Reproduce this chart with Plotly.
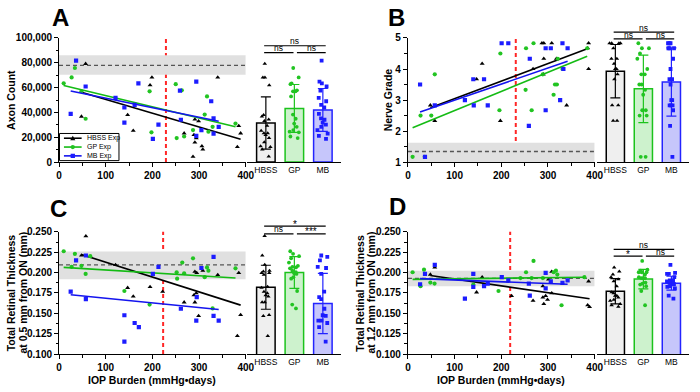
import plotly.graph_objects as go

W, H = 700, 392
FONT = "Liberation Sans"

# ---------------- data ----------------
groups = ["HBSS", "GP", "MB"]
legend_names = ["HBSS Exp", "GP Exp", "MB Exp"]

# Panel A: axon count
A_hbss_x = [57, 199, 340, 195, 48, 147, 159, 268, 291, 299, 289, 294, 291, 306, 308, 287, 385, 389, 382]
A_hbss_y = [79200, 68200, 68200, 62000, 36700, 38000, 25300, 23200, 34400, 33000, 21900, 19300, 15900, 12800, 10200, 4400, 29200, 23200, 12200]
A_gp_x = [10, 27, 34, 48, 57, 194, 198, 250, 263, 252, 268, 287, 312, 317, 320, 329, 378]
A_gp_y = [63500, 68200, 75800, 57000, 34900, 57000, 24000, 62800, 57800, 19300, 20600, 25800, 38300, 52900, 24500, 28400, 31000]
A_mb_x = [25, 36.5, 57, 121, 140, 140, 162, 170, 201, 213, 259, 261, 294, 294, 305, 326, 331, 331, 342]
A_mb_y = [38800, 81800, 60900, 51800, 44000, 31800, 46100, 63500, 18750, 30200, 57500, 34100, 64800, 21100, 25800, 49000, 35200, 22900, 28400]

# Panel B: nerve grade
B_hbss_x = [48, 57.5, 147, 159, 198, 287, 291, 308, 291, 290, 268, 340, 387, 385, 387, 318]
B_hbss_y = [2.83, 2.33, 3.67, 4.17, 2.33, 4.83, 4.83, 4.83, 4.33, 3.83, 4.0, 2.83, 4.83, 4.67, 4.0, 4.33]
B_gp_x = [57.5, 27, 50, 198, 196, 253, 269, 252, 265, 289, 315, 319, 312, 321, 331, 384, 10, 36]
B_gp_y = [3.83, 2.5, 2.5, 4.5, 2.67, 4.67, 4.83, 3.33, 2.67, 3.83, 3.5, 3.5, 3.17, 4.33, 4.0, 4.67, 1.17, 1.17]
B_mb_x = [26, 36.5, 57.5, 122, 140, 141, 163, 171, 200.7, 215, 259, 261, 295, 295, 306, 326, 331, 333, 342]
B_mb_y = [3.5, 1.17, 2.83, 3.0, 3.67, 2.83, 3.67, 2.83, 4.83, 4.83, 2.17, 4.33, 4.67, 2.67, 4.67, 3.0, 4.83, 4.0, 4.67]

# Panel C: retinal thickness at 0.5 mm
C_hbss_x = [57.5, 48, 121, 147, 159, 195, 222, 268, 289, 291, 291, 295, 299, 308, 340, 385, 389, 382, 294]
C_hbss_y = [0.2448, 0.221, 0.2095, 0.1813, 0.1706, 0.1825, 0.1766, 0.1635, 0.1722, 0.1635, 0.2012, 0.1996, 0.1468, 0.2024, 0.1972, 0.1996, 0.148, 0.1222, 0.1746]
C_gp_x = [10, 34, 27, 48, 67, 57, 140, 194, 252, 253, 264, 268, 287, 312, 317, 320, 378, 329]
C_gp_y = [0.2262, 0.223, 0.2071, 0.2083, 0.2202, 0.1984, 0.1774, 0.1607, 0.2004, 0.1925, 0.2123, 0.1992, 0.2175, 0.1944, 0.2063, 0.2024, 0.2052, 0.156]
C_mb_x = [36.5, 57.5, 213, 201, 331, 305, 295, 25, 57.5, 261, 140, 162, 171, 140, 294, 331, 342]
C_mb_y = [0.2151, 0.221, 0.2071, 0.1984, 0.2194, 0.2056, 0.1698, 0.1766, 0.1675, 0.1556, 0.1476, 0.1381, 0.1329, 0.1151, 0.1409, 0.1468, 0.1409]

# Panel D: retinal thickness at 1.2 mm
D_hbss_x = [57.5, 48, 159, 147, 222, 268, 289, 291, 299, 295, 289, 308, 308, 301, 385, 389, 387]
D_hbss_y = [0.2063, 0.1976, 0.1944, 0.1758, 0.1714, 0.1655, 0.1694, 0.1615, 0.1667, 0.1714, 0.1833, 0.2012, 0.1746, 0.1917, 0.1599, 0.1579, 0.1893]
D_gp_x = [10, 27, 34.4, 48, 57, 140, 194, 253, 269, 265, 289, 312, 317, 320, 329, 378, 241]
D_gp_y = [0.2004, 0.1833, 0.2036, 0.1877, 0.1865, 0.1853, 0.1774, 0.2004, 0.2143, 0.1933, 0.1933, 0.2004, 0.2024, 0.1976, 0.1599, 0.1944, 0.1933]
D_mb_x = [36.5, 57.5, 26, 140, 140, 122, 163, 171, 201, 215, 261, 259, 295, 295, 306, 331, 342]
D_mb_y = [0.1984, 0.2095, 0.1857, 0.1984, 0.1825, 0.1679, 0.1833, 0.1865, 0.1944, 0.1905, 0.1718, 0.1865, 0.1996, 0.1806, 0.1893, 0.1873, 0.1905]

# linear fits (slope, intercept) per group: HBSS, GP, MB
A_fit = [(-110.6, 61500), (-90.5, 62600), (-77.0, 59270)]
B_fit = [(0.00566, 2.478), (0.00617, 2.042), (0.00518, 2.48)]
C_fit = [(-0.0001824, 0.2310), (-0.0000354, 0.2067), (-0.0000573, 0.1743)]
D_fit = [(-0.0000836, 0.2004), (0.0000073, 0.1916), (-0.0000219, 0.1931)]

# bar means and SD
A_mean = [31500, 43250, 42000]; A_sd = [21000, 19250, 17300]
B_mean = [3.93, 3.36, 3.58];    B_sd = [0.86, 1.09, 1.10]
C_mean = [0.182, 0.200, 0.162]; C_sd = [0.027, 0.0195, 0.037]
D_mean = [0.177, 0.192, 0.187]; D_sd = [0.0155, 0.012, 0.0085]

# control (naive) mean and band
A_ctrl = [78000, 70300, 86000]
B_ctrl = [1.34, 1.0, 1.62]
C_ctrl = [0.2095, 0.1917, 0.226]
D_ctrl = [0.1929, 0.1833, 0.2024]

# IOP burden threshold (red dashed line)
A_thr = 229; B_thr = 231; C_thr = 223; D_thr = 219

# significance labels: [top (HBSS-MB), HBSS-GP, GP-MB]
A_sig = ["ns", "ns", "ns"]
B_sig = ["ns", "ns", "ns"]
C_sig = ["*", "ns", "***"]
D_sig = ["ns", "*", "ns"]

# ---------------- style ----------------
marker_symbols = ["triangle-up", "circle", "square"]
marker_sizes = [4.4, 4.2, 4.2]
marker_colors = ["#000000", "#22c422", "#1c1cff"]
line_colors = ["#000000", "#14bb14", "#1414ee"]
bar_fills = ["#efefef", "#cdf2cd", "#c6c6fb"]
bar_lines = ["#000000", "#1cc31c", "#2323ff"]


def px(X):
    return X / W


def py(Y):
    return 1 - Y / H


panels = [
    dict(letter="A", xs=[A_hbss_x, A_gp_x, A_mb_x], ys=[A_hbss_y, A_gp_y, A_mb_y], fit=A_fit,
         mean=A_mean, sd=A_sd, ctrl=A_ctrl, thr=A_thr, sig=A_sig,
         yr=[0, 100000], dtick=20000, minor=10000, fmt=",d", col=0, row=0,
         brk=(41, 48), letterpos=(58, 12)),
    dict(letter="B", xs=[B_hbss_x, B_gp_x, B_mb_x], ys=[B_hbss_y, B_gp_y, B_mb_y], fit=B_fit,
         mean=B_mean, sd=B_sd, ctrl=B_ctrl, thr=B_thr, sig=B_sig,
         yr=[1, 5], dtick=1, minor=0.5, fmt="d", col=1, row=0,
         brk=(27, 34), letterpos=(400, 12)),
    dict(letter="C", xs=[C_hbss_x, C_gp_x, C_mb_x], ys=[C_hbss_y, C_gp_y, C_mb_y], fit=C_fit,
         mean=C_mean, sd=C_sd, ctrl=C_ctrl, thr=C_thr, sig=C_sig,
         yr=[0.1, 0.25], dtick=0.025, minor=0.0125, fmt=".3f", col=0, row=1,
         brk=(227, 235), letterpos=(56, 209)),
    dict(letter="D", xs=[D_hbss_x, D_gp_x, D_mb_x], ys=[D_hbss_y, D_gp_y, D_mb_y], fit=D_fit,
         mean=D_mean, sd=D_sd, ctrl=D_ctrl, thr=D_thr, sig=D_sig,
         yr=[0.1, 0.25], dtick=0.025, minor=0.0125, fmt=".3f", col=1, row=1,
         brk=(251, 258), letterpos=(401, 207)),
]

scatter_dom = [(57, 247), (412, 602)]
bar_dom = [(248.6, 343.7), (604.5, 698)]
row_dom = [(33, 161), (233, 359)]
BAR_RANGE = [-0.65, 2.63]

fig = go.Figure()
layout = dict(width=W, height=H, margin=dict(l=0, r=0, t=0, b=0),
              paper_bgcolor="white", plot_bgcolor="white", showlegend=False,
              barmode="overlay", font=dict(family=FONT, color="black"))
shapes = []
annotations = []

bold_tick = dict(family=FONT, size=10, color="black", weight="bold")


def aid(prefix, n):
    return prefix + ("" if n == 1 else str(n))


for i, p in enumerate(panels):
    sx = 2 * i + 1
    bx = 2 * i + 2
    yn = i + 1
    sxr, bxr, yr_ = aid("x", sx), aid("x", bx), aid("y", yn)
    c, r = p["col"], p["row"]
    ydom = [py(row_dom[r][1]), py(row_dom[r][0])]

    layout[aid("xaxis", sx)] = dict(
        domain=[px(scatter_dom[c][0]), px(scatter_dom[c][1])], anchor=yr_,
        range=[0, 400], tick0=0, dtick=100, showline=True, linecolor="black", linewidth=1,
        ticks="outside", ticklen=4, tickwidth=1, tickcolor="black",
        minor=dict(ticks="outside", dtick=50, ticklen=3, tickwidth=1, tickcolor="black"),
        showgrid=False, zeroline=False, tickfont=bold_tick, fixedrange=True)
    layout[aid("yaxis", yn)] = dict(
        domain=ydom, anchor=sxr, range=p["yr"], tick0=p["yr"][0], dtick=p["dtick"],
        tickformat=p["fmt"], showline=True, linecolor="black", linewidth=1,
        ticks="outside", ticklen=4, tickwidth=1, tickcolor="black",
        minor=dict(ticks="outside", dtick=p["minor"], ticklen=2.5, tickwidth=1, tickcolor="black"),
        showgrid=False, zeroline=False, tickfont=bold_tick, fixedrange=True)
    layout[aid("xaxis", bx)] = dict(
        domain=[px(bar_dom[c][0]), px(bar_dom[c][1])], anchor=yr_, range=BAR_RANGE,
        tickmode="array", tickvals=[0, 1, 2], ticktext=groups, ticks="",
        showline=True, linecolor="black", linewidth=1, showgrid=False, zeroline=False,
        tickfont=dict(family=FONT, size=8.5, color="black"), fixedrange=True)

    # control band and mean line
    m, lo, hi = p["ctrl"]
    shapes.append(dict(type="rect", xref=sxr, yref=yr_, x0=0, x1=400, y0=lo, y1=hi,
                       fillcolor="#e0e0e0", line=dict(width=0), layer="below"))
    shapes.append(dict(type="line", xref=sxr, yref=yr_, x0=0, x1=400, y0=m, y1=m,
                       line=dict(color="#555555", width=1.3, dash="4px,3px"), layer="below"))
    # threshold
    shapes.append(dict(type="line", xref=sxr, yref=yr_ + " domain", x0=p["thr"], x1=p["thr"],
                       y0=0, y1=1, line=dict(color="#ff2626", width=2, dash="4px,3px"), layer="below"))

    for g in range(3):
        xs, ys = p["xs"][g], p["ys"][g]
        fig.add_trace(go.Scatter(
            x=xs, y=ys, mode="markers", xaxis=sxr, yaxis=yr_, hoverinfo="skip",
            marker=dict(symbol=marker_symbols[g], size=marker_sizes[g], color=marker_colors[g],
                        line=dict(width=0))))
        slope, icpt = p["fit"][g]
        fx = [min(xs), max(xs)]
        fig.add_trace(go.Scatter(
            x=fx, y=[slope * v + icpt for v in fx], mode="lines", xaxis=sxr, yaxis=yr_,
            hoverinfo="skip", line=dict(color=line_colors[g], width=1.6)))
        # bar with SD
        fig.add_trace(go.Bar(
            x=[g], y=[p["mean"][g]], width=0.65, xaxis=bxr, yaxis=yr_, hoverinfo="skip",
            marker=dict(color=bar_fills[g], line=dict(color=bar_lines[g], width=1.5)),
            error_y=dict(type="data", array=[p["sd"][g]], visible=True, color=bar_lines[g],
                         thickness=1.2, width=5)))
        # individual points in the bar
        fig.add_trace(go.Box(
            x=[g] * len(ys), y=ys, xaxis=bxr, yaxis=yr_, boxpoints="all", jitter=0.75,
            pointpos=0, width=0.6, fillcolor="rgba(0,0,0,0)", hoverinfo="skip",
            line=dict(color="rgba(0,0,0,0)", width=0),
            marker=dict(symbol=marker_symbols[g], size=marker_sizes[g] - 0.4, color=marker_colors[g],
                        line=dict(width=0))))

    # significance brackets
    ytop, ylow = p["brk"]
    for (x0, x1, yy, txt) in [(-0.06, 2.1, ytop, p["sig"][0]),
                              (-0.06, 0.97, ylow, p["sig"][1]),
                              (1.09, 2.1, ylow, p["sig"][2])]:
        shapes.append(dict(type="line", xref=bxr, yref="paper", x0=x0, x1=x1,
                           y0=py(yy), y1=py(yy), line=dict(color="black", width=1.2)))
        star = "*" in txt
        annotations.append(dict(
            xref=bxr, yref="paper", x=(x0 + x1) / 2, y=py(yy - 4.5), text=txt, showarrow=False,
            xanchor="center", yanchor="middle", yshift=-2.5 if star else 0,
            font=dict(family=FONT, size=10 if star else 8.5, color="black")))

    # panel letter
    lx, ly = p["letterpos"]
    annotations.append(dict(xref="paper", yref="paper", x=px(lx), y=py(ly), text=p["letter"],
                            showarrow=False, xanchor="center", yanchor="middle",
                            font=dict(family=FONT, size=24, color="black", weight="bold")))

# axis titles
title_font = dict(family=FONT, size=10.5, color="black", weight="bold")
ytitles = [("Axon Count", 8, 97), ("Nerve Grade", 392, 97),
           ("Total Retinal Thickness", 8.5, 296), ("at 0.5 mm from ON (mm)", 20, 296),
           ("Total Retinal Thickness", 363, 296), ("at 1.2 mm from ON (mm)", 374, 296)]
for txt, X, Y in ytitles:
    annotations.append(dict(xref="paper", yref="paper", x=px(X), y=py(Y), text=txt,
                            textangle=-90, showarrow=False, xanchor="center", yanchor="middle",
                            font=title_font))
for X in [152, 507]:
    annotations.append(dict(xref="paper", yref="paper", x=px(X), y=py(386), borderpad=0,
                            text="IOP Burden (mmHg\u2022days)", showarrow=False,
                            xanchor="center", yanchor="middle", font=title_font))

# legend box in panel A
LX0, LX1, LY0, LY1 = 57.5, 118, 131.5, 159.5
shapes.append(dict(type="rect", xref="paper", yref="paper", x0=px(LX0), x1=px(LX1),
                   y0=py(LY1), y1=py(LY0), line=dict(color="black", width=1),
                   fillcolor="white", layer="above"))
ROW_STEP = 9.1
rows = [145.5 - ROW_STEP, 145.5, 145.5 + ROW_STEP]
for g, Y in enumerate(rows):
    shapes.append(dict(type="line", xref="paper", yref="paper", x0=px(62), x1=px(80),
                       y0=py(Y), y1=py(Y), line=dict(color=line_colors[g], width=1.6)))
    cx = 71
    if g == 0:
        path = "M{},{} L{},{} L{},{} Z".format(px(cx - 2.6), py(Y + 2), px(cx + 2.6), py(Y + 2),
                                               px(cx), py(Y - 2.6))
        shapes.append(dict(type="path", xref="paper", yref="paper", path=path,
                           fillcolor=marker_colors[g], line=dict(width=0)))
    elif g == 1:
        shapes.append(dict(type="circle", xref="paper", yref="paper", x0=px(cx - 2.2), x1=px(cx + 2.2),
                           y0=py(Y + 2.2), y1=py(Y - 2.2), fillcolor=marker_colors[g], line=dict(width=0)))
    else:
        shapes.append(dict(type="rect", xref="paper", yref="paper", x0=px(cx - 2.2), x1=px(cx + 2.2),
                           y0=py(Y + 2.2), y1=py(Y - 2.2), fillcolor=marker_colors[g], line=dict(width=0)))
annotations.append(dict(xref="paper", yref="paper", x=px(84), y=py(145.5),
                        text="<br>".join(legend_names), showarrow=False, align="left",
                        xanchor="left", yanchor="middle", borderpad=0,
                        font=dict(family=FONT, size=7, color="black")))

layout["shapes"] = shapes
layout["annotations"] = annotations
fig.update_layout(**layout)
fig.write_html("out.html", config={"displayModeBar": False},
               post_script="document.body.style.margin='0';document.body.style.padding='0';")
